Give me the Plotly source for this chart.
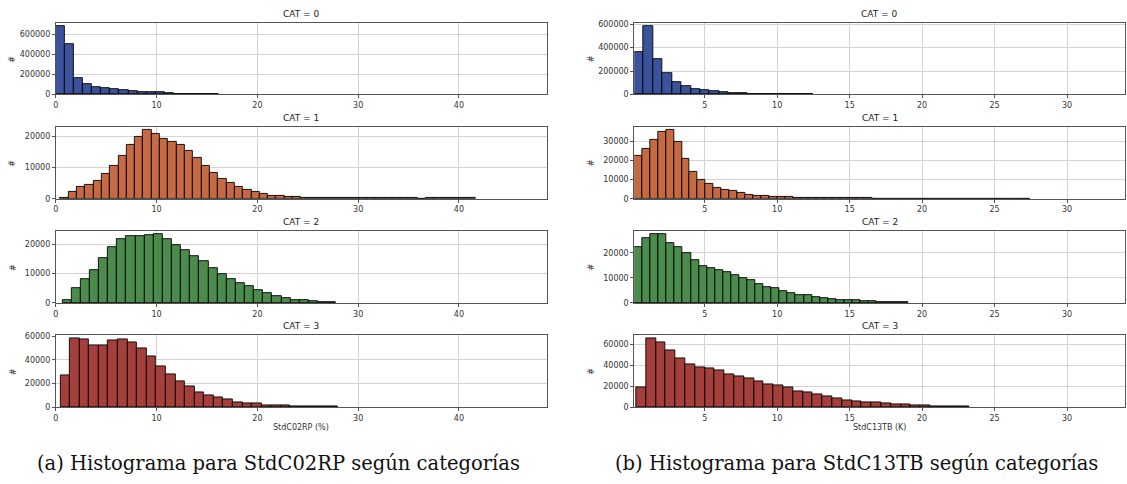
import plotly.graph_objects as go

# ---- StdC02RP (%) histograms per category: first bin edge, bin width, counts ----
c02_start = [0.0, 0.43, 0.66, 0.46]
c02_width = [0.90, 0.825, 0.905, 0.95]
c02_cat0 = [680000, 506000, 167000, 105000, 72000, 59000, 49000, 40000, 30000,
            27000, 20000, 20000, 10000, 8000, 7000, 6000, 5000, 4000]
c02_cat1 = [300, 2300, 3700, 4400, 5700, 7900, 10500, 13700, 17100, 19800, 21900,
            20900, 19200, 18100, 17100, 15400, 13100, 10500, 8200, 6500, 5100,
            3700, 2800, 2100, 1450, 950, 800, 600, 450, 350, 300, 280, 260, 250,
            240, 230, 220, 210, 200, 200, 190, 180, 170, 0, 160, 160, 150, 150, 140, 140]
c02_cat2 = [800, 5200, 8200, 11100, 15100, 18900, 21800, 22800, 22800, 23200,
            23300, 21800, 19700, 18100, 15900, 14100, 11900, 9900, 8100, 6700,
            5600, 4400, 3300, 2300, 1600, 1100, 800, 500, 300, 200]
c02_cat3 = [27200, 57800, 56900, 52200, 52200, 56100, 56900, 55000, 49700, 43000,
            34700, 28000, 21700, 17200, 12800, 10000, 8100, 6400, 4400, 3600,
            2800, 1900, 1700, 1500, 1000, 800, 600, 500, 300]

# ---- StdC13TB (K) histograms per category ----
c13_start = [0.14, 0.14, 0.14, 0.28]
c13_width = [0.65, 0.547, 0.557, 0.676]
c13_cat0 = [365000, 580000, 304000, 183000, 107000, 70000, 45000, 37000, 25000,
            17000, 14000, 14000, 6000, 5000, 4500, 4000, 3500, 3000, 2500]
c13_cat1 = [22400, 26300, 30900, 35200, 35900, 29700, 20700, 14000, 9900, 7800,
            5600, 4600, 3900, 2900, 2200, 1700, 1500, 1000, 850, 800,
            600, 500, 400, 350, 300, 260, 230, 200, 180, 160, 150, 140, 130, 120,
            110, 100, 95, 90, 85, 80, 75, 70, 65, 60, 55, 50, 45, 40, 35, 30]
c13_cat2 = [22200, 26000, 27300, 27300, 23900, 22100, 19900, 16900, 14800, 13900,
            13100, 12200, 11200, 9900, 9200, 7700, 6400, 5800, 4800, 3800, 3000,
            3000, 2200, 1800, 1700, 1300, 1100, 1000, 800, 600, 500, 400, 300, 200]
c13_cat3 = [18400, 65000, 61900, 53800, 46600, 40900, 38100, 36900, 34700, 31600,
            29700, 27500, 24700, 21600, 20600, 18400, 15300, 14400, 11900, 10000,
            8100, 6900, 5800, 5000, 4200, 3500, 2800, 2300, 1800, 1500, 1200, 900,
            700, 500]

categories = ["CAT = 0", "CAT = 1", "CAT = 2", "CAT = 3"]
x_titles = ["StdC02RP (%)", "StdC13TB (K)"]
captions = ["(a) Histograma para StdC02RP según categorías",
            "(b) Histograma para StdC13TB según categorías"]
y_ticks = [[[0, 200000, 400000, 600000], [0, 10000, 20000], [0, 10000, 20000], [0, 20000, 40000, 60000]],
           [[0, 200000, 400000, 600000], [0, 10000, 20000, 30000], [0, 10000, 20000], [0, 20000, 40000, 60000]]]
x_ranges = [[0.0, 48.7], [0.14, 34.0]]
x_dticks = [10, 5]

colors = ["#3b539c", "#c66a43", "#4b8b4b", "#a43f3b"]

W, H = 1127, 484
col_px = [(53, 545), (633, 1125)]
row_px = [(20.5, 93), (126, 199), (232, 305), (338, 411)]

panels = [
    (c02_start, c02_width, [c02_cat0, c02_cat1, c02_cat2, c02_cat3]),
    (c13_start, c13_width, [c13_cat0, c13_cat1, c13_cat2, c13_cat3]),
]

fig = go.Figure()
layout = dict(
    width=W, height=H, margin=dict(l=0, r=0, t=0, b=0),
    paper_bgcolor="white", plot_bgcolor="white", showlegend=False,
    bargap=0, font=dict(family="DejaVu Sans", size=8, color="#333333"),
)
annotations = []
tick_font = dict(family="DejaVu Sans", size=8, color="#333333")

idx = 0
for c, (starts, widths, series) in enumerate(panels):
    x0p, x1p = col_px[c]
    for r, counts in enumerate(series):
        idx += 1
        xa = "x" if idx == 1 else f"x{idx}"
        ya = "y" if idx == 1 else f"y{idx}"
        w = widths[r]
        s = starts[r]
        centers = [s + w * (i + 0.5) for i in range(len(counts))]
        fig.add_trace(go.Bar(
            x=centers, y=counts, width=[w] * len(counts),
            marker=dict(color=colors[r], line=dict(color="rgba(0,0,0,0.9)", width=1)),
            xaxis=xa, yaxis=ya, hoverinfo="skip",
        ))
        top_px, bot_px = row_px[r]
        layout["xaxis" if idx == 1 else f"xaxis{idx}"] = dict(
            domain=[x0p / W, x1p / W], anchor=ya, range=x_ranges[c],
            dtick=x_dticks[c], tick0=0, showgrid=True, gridcolor="#d3d3d3",
            gridwidth=1, zeroline=False, showline=True, linecolor="#555555",
            linewidth=1, mirror=True, ticks="outside", ticklen=3,
            tickcolor="#555555", tickfont=tick_font,
        )
        layout["yaxis" if idx == 1 else f"yaxis{idx}"] = dict(
            domain=[1 - bot_px / H, 1 - top_px / H], anchor=xa,
            range=[0, max(counts) * 1.05], tickvals=y_ticks[c][r],
            tickformat="d", showgrid=True, gridcolor="#d3d3d3", gridwidth=1,
            zeroline=False, showline=True, linecolor="#555555", linewidth=1,
            mirror=True, ticks="outside", ticklen=3, tickcolor="#555555",
            tickfont=tick_font,
        )
        # subplot title
        annotations.append(dict(
            text=categories[r], x=(x0p + x1p) / 2 / W, y=1 - (top_px - 2) / H,
            xref="paper", yref="paper", xanchor="center", yanchor="bottom",
            showarrow=False, font=dict(family="DejaVu Sans", size=9, color="#222222"),
        ))
        # y axis label
        annotations.append(dict(
            text="#", x=(x0p - 43) / W, y=1 - (top_px + bot_px) / 2 / H,
            xref="paper", yref="paper", xanchor="center", yanchor="middle",
            textangle=-90, showarrow=False,
            font=dict(family="DejaVu Sans", size=8, color="#333333"),
        ))
    # x axis title under the last row
    annotations.append(dict(
        text=x_titles[c], x=(x0p + x1p) / 2 / W, y=1 - 432 / H,
        xref="paper", yref="paper", xanchor="center", yanchor="middle",
        showarrow=False, font=dict(family="DejaVu Sans", size=8, color="#333333"),
    ))

# figure captions
caption_font = dict(family="DejaVu Serif", size=19.5, color="#111111")
annotations.append(dict(
    text=captions[0], x=276 / W, y=1 - 468 / H, xref="paper", yref="paper",
    xanchor="center", yanchor="middle", showarrow=False, font=caption_font,
))
annotations.append(dict(
    text=captions[1], x=856 / W, y=1 - 468 / H, xref="paper", yref="paper",
    xanchor="center", yanchor="middle", showarrow=False, font=caption_font,
))

layout["annotations"] = annotations
fig.update_layout(**layout)
fig.write_html("out.html")
